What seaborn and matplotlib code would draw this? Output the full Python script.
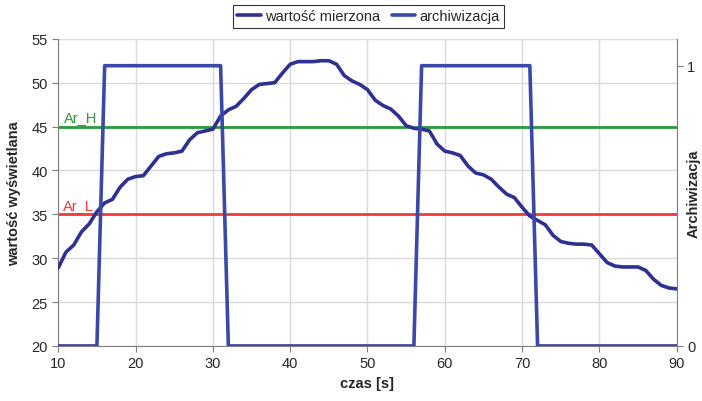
import seaborn as sns
import matplotlib.pyplot as plt
import pandas as pd

# czas [s] 10..90, co 1 s
czas = list(range(10, 91))
wartosc = [
    28.9, 30.7, 31.5, 33.0, 33.9, 35.3, 36.3, 36.7, 38.1, 39.0,
    39.3, 39.4, 40.5, 41.6, 41.9, 42.0, 42.2, 43.5, 44.3, 44.5,
    44.7, 46.2, 46.9, 47.3, 48.2, 49.2, 49.8, 49.9, 50.0, 51.1,
    52.1, 52.4, 52.4, 52.4, 52.5, 52.5, 52.1, 50.8, 50.2, 49.8,
    49.2, 48.0, 47.4, 47.0, 46.2, 45.1, 44.8, 44.7, 44.5, 43.0,
    42.2, 42.0, 41.7, 40.5, 39.7, 39.5, 39.0, 38.1, 37.3, 36.9,
    35.8, 34.8, 34.3, 33.8, 32.6, 31.9, 31.7, 31.6, 31.6, 31.5,
    30.5, 29.5, 29.1, 29.0, 29.0, 29.0, 28.6, 27.6, 26.9, 26.6,
    26.5,
]
arch_t = [10, 15, 16, 31, 32, 56, 57, 71, 72, 90]
arch_v = [0, 0, 1, 1, 0, 0, 1, 1, 0, 0]
ar_h = 45
ar_l = 35

df = pd.DataFrame({"czas": czas, "wartosc": wartosc})
df_arch = pd.DataFrame({"czas": arch_t, "arch": arch_v})

sns.set_style("white")
plt.rcParams['font.family'] = ['Liberation Sans', 'DejaVu Sans']

fig = plt.figure(figsize=(7.02, 4.02), dpi=100)
ax = fig.add_axes([0.083, 0.137, 0.881, 0.764])
ax2 = ax.twinx()

navy = "#2E3192"
blue = "#3A48A8"

ax.axhline(ar_h, color="#2A9A3A", lw=2, zorder=2)
ax.axhline(ar_l, color="#EE3B3B", lw=2, zorder=2)
sns.lineplot(data=df, x="czas", y="wartosc", ax=ax, color=navy, lw=2.6,
             zorder=3, label="wartość mierzona", legend=False)
sns.lineplot(data=df_arch, x="czas", y="arch", ax=ax2, color=blue, lw=2.6,
             label="archiwizacja", legend=False)

ax.text(10.8, ar_h + 0.3, "Ar_H", color="#2A9A3A", fontsize=10.5, va="bottom")
ax.text(10.6, ar_l + 0.3, "Ar_L", color="#EE3B3B", fontsize=10.5, va="bottom")

ax.set_xlim(10, 90)
ax.set_ylim(20, 55)
ax2.set_ylim(0, 1.096)
ax.set_xticks(range(10, 91, 10))
ax.set_yticks(range(20, 56, 5))
ax2.set_yticks([0, 1])

ax.grid(True, color="#D9D9D9", lw=1)
ax.set_axisbelow(True)
for a in (ax, ax2):
    for s in a.spines.values():
        s.set_visible(False)
ax.spines["left"].set_visible(True)
ax.spines["left"].set_color("#7F7F7F")
ax.spines["bottom"].set_visible(True)
ax.spines["bottom"].set_color("#7F7F7F")
ax2.spines["right"].set_visible(True)
ax2.spines["right"].set_color("#7F7F7F")

ax.tick_params(axis="both", labelsize=10.5, length=4, color="#7F7F7F", direction="out",
               left=True, bottom=True)
ax2.tick_params(axis="y", labelsize=10.5, length=4, color="#7F7F7F", direction="out",
                right=True)

ax.set_xlabel("czas [s]", fontsize=10.5, fontweight="bold")
ax.set_ylabel("wartość wyświetlana", fontsize=10.5, fontweight="bold")
ax2.set_ylabel("Archiwizacja", fontsize=10.5, fontweight="bold")
ax2.yaxis.set_label_coords(1.016, 0.5)
ax.yaxis.set_label_coords(-0.06, 0.5)

h1, l1 = ax.get_legend_handles_labels()
h2, l2 = ax2.get_legend_handles_labels()
leg = fig.legend(h1 + h2, l1 + l2, loc="center", bbox_to_anchor=(0.525, 0.957), ncol=2,
                 fontsize=10.5, frameon=True, fancybox=False, handlelength=1.6,
                 handletextpad=0.3, columnspacing=0.8, borderpad=0.3)
leg.get_frame().set_edgecolor("black")
leg.get_frame().set_linewidth(0.8)

fig.savefig("out.png", dpi=100)
